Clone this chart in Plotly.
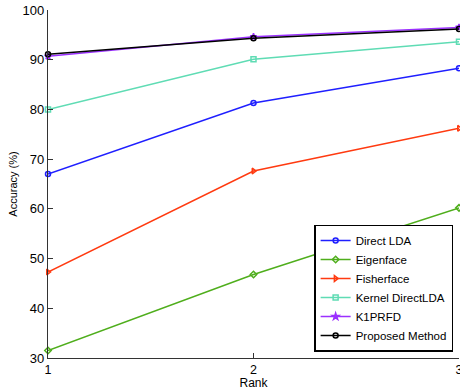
import plotly.graph_objects as go

ranks = [1, 2, 3]
direct_lda = [67.0, 81.3, 88.3]
eigenface = [31.5, 46.8, 60.2]
fisherface = [47.3, 67.6, 76.2]
kernel_dlda = [80.0, 90.1, 93.6]
k1prfd = [90.7, 94.6, 96.5]
proposed = [91.1, 94.3, 96.2]

series = [
    ("Direct LDA", direct_lda, "#1f1fff", "circle-open"),
    ("Eigenface", eigenface, "#4fae1c", "diamond-open"),
    ("Fisherface", fisherface, "#ff3a10", "triangle-right-open"),
    ("Kernel DirectLDA", kernel_dlda, "#5fdcb4", "square-open"),
    ("K1PRFD", k1prfd, "#9b30ff", "star"),
    ("Proposed Method", proposed, "#000000", "circle-open"),
]

fig = go.Figure()
for name, vals, color, sym in series:
    fig.add_trace(go.Scatter(
        x=ranks, y=vals, name=name, mode="lines+markers",
        line=dict(color=color, width=1.5),
        marker=dict(symbol=sym, size=5, color=color, line=dict(color=color, width=1.5)),
        cliponaxis=False,
    ))

font = "Liberation Sans, Arial, Helvetica, sans-serif"
fig.update_layout(
    width=460, height=390,
    margin=dict(l=48, r=1, t=10, b=32),
    paper_bgcolor="white", plot_bgcolor="white",
    font=dict(family=font, size=13, color="#000"),
    showlegend=True,
    legend=dict(
        x=0.648, y=0.018, xanchor="left", yanchor="bottom",
        bgcolor="white", bordercolor="black", borderwidth=1.3,
        font=dict(size=11.5, family=font), itemwidth=30,
        tracegroupgap=0,
    ),
    xaxis=dict(
        range=[1, 3], tickvals=[1, 2, 3], ticks="inside", ticklen=5,
        tickcolor="#333", showline=True, linecolor="#333", linewidth=1.3,
        showgrid=False, zeroline=False, mirror=False,
        ticklabeloverflow="allow", automargin=False,
        title=dict(text="Rank", font=dict(size=12), standoff=0),
        tickfont=dict(size=12.5),
    ),
    yaxis=dict(
        range=[30, 100], tickvals=[30, 40, 50, 60, 70, 80, 90, 100], ticks="inside", ticklen=5,
        tickcolor="#333", showline=True, linecolor="#333", linewidth=1.3,
        showgrid=False, zeroline=False, mirror=False, automargin=False,
        title=dict(text="Accuracy (%)", font=dict(size=11), standoff=2),
        tickfont=dict(size=13),
    ),
)

fig.write_html("out.html")
